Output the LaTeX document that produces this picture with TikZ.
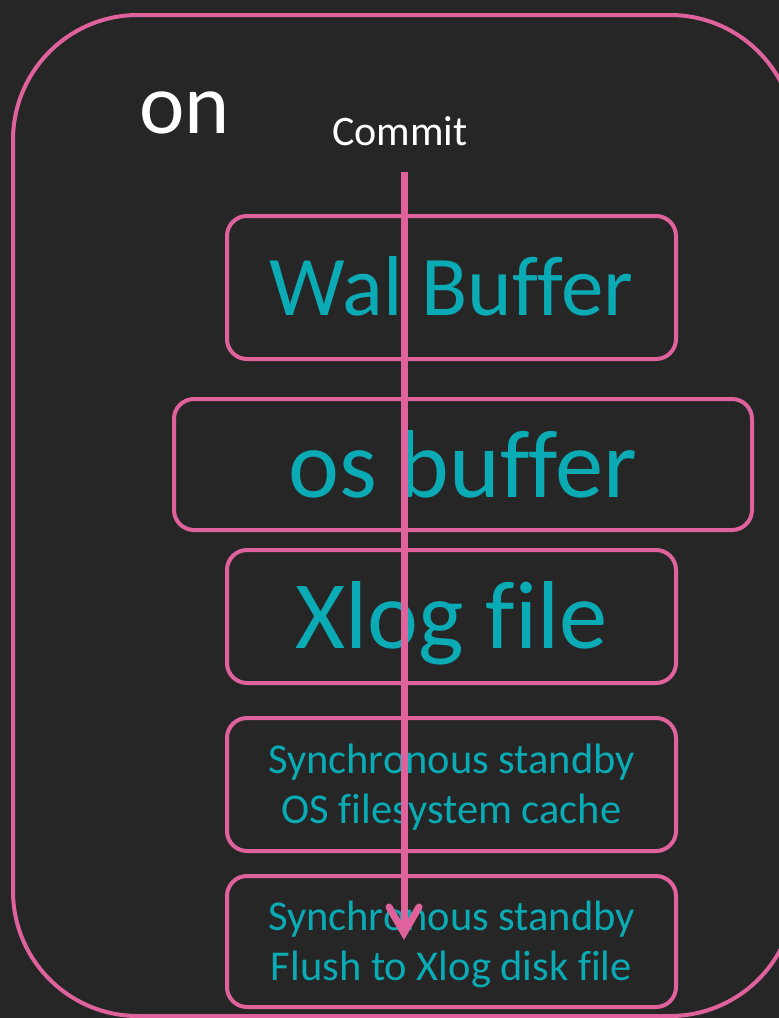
\documentclass[tikz,border=0pt]{standalone}
\usepackage{fontspec}
\setmainfont{Carlito}[Ligatures={NoCommon}]
\usetikzlibrary{arrows.meta}
\definecolor{bgc}{HTML}{262626}
\definecolor{pinkc}{HTML}{E0629C}
\definecolor{tealc}{HTML}{0AABB5}
\begin{document}
\begin{tikzpicture}[x=1pt,y=-1pt,
  box/.style={draw=pinkc, line width=4pt, rounded corners=20pt, inner sep=0pt, align=center, text=tealc},
  big/.style={font=\fontsize{85}{90}\selectfont},
  bigger/.style={font=\fontsize{96.5}{100}\selectfont},
  small/.style={font=\fontsize{42.5}{50}\selectfont, text height=80pt, text depth=3pt}]
\fill[bgc] (0,0) rectangle (779,1018);
\useasboundingbox (0,0) rectangle (779,1018);
\draw[pinkc, line width=4pt, rounded corners=125pt] (13,15) rectangle (795,1016);
\node[anchor=base west, text=white, font=\fontsize{86}{100}\selectfont, inner sep=0pt] (title) at (139,133) {on};
\node[anchor=base, text=white, font=\fontsize{42}{46}\selectfont, inner sep=0pt] (commit) at (400,145) {Commit};
\node[box, big, text height=55pt, text depth=0pt, minimum width=449pt, minimum height=143pt] (wal) at (451.5,287.5) {Wal Buffer};
\node[box, bigger, text height=65pt, text depth=0pt, minimum width=578pt, minimum height=131pt] (os) at (463,464.5) {os buffer};
\node[box, bigger, text height=63pt, text depth=0pt, minimum width=449pt, minimum height=133pt] (xlog) at (451.5,616.5) {Xlog file};
\node[box, small, minimum width=449pt, minimum height=133pt] (sync1) at (451.5,784.5) {Synchronous standby\\OS filesystem cache};
\node[box, small, minimum width=449pt, minimum height=131pt] (sync2) at (451.5,941.5) {Synchronous standby\\Flush to Xlog disk file};
\coordinate (astart) at (404,172);
\coordinate (aend) at (404,940);
\draw[pinkc, line width=7pt, -{Straight Barb[length=26pt,width=30pt,line cap=round]}] (astart) -- (aend);
\end{tikzpicture}
\end{document}
